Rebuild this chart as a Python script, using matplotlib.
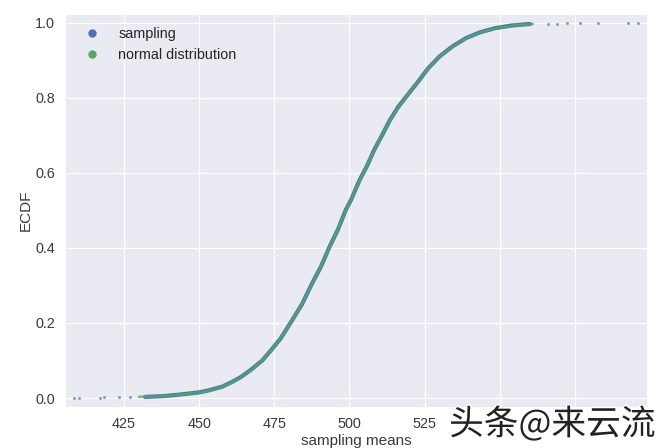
import numpy as np
import matplotlib
matplotlib.use('Agg')
import matplotlib.pyplot as plt
import matplotlib.patheffects as pe
from matplotlib.lines import Line2D
import seaborn as sns

# ECDF 曲线上读出的点 (x = 抽样均值, y = 累计比例)
sampling_x = [432, 438, 444.5, 450, 453.5, 457.6, 461, 463.9, 467.2, 471.1,
              474.2, 477.2, 480.6, 484.2, 487.6, 490.5, 493.2, 496.2, 498.7,
              500.5, 503.3, 505.9, 508.2, 510.8, 513.4, 516.2, 520.6, 522.8,
              526.3, 529.9, 534.2, 538.9, 543.5, 548.5, 554, 560]
sampling_y = [0.003, 0.005, 0.010, 0.015, 0.021, 0.030, 0.043, 0.056, 0.075,
              0.101, 0.130, 0.160, 0.203, 0.250, 0.306, 0.350, 0.400, 0.450,
              0.500, 0.528, 0.580, 0.620, 0.661, 0.700, 0.740, 0.776, 0.821,
              0.843, 0.880, 0.910, 0.937, 0.960, 0.975, 0.986, 0.993, 0.997]

# 两端零散的样本点
tail_x = [408.5, 410, 417, 418.5, 423.5, 427, 566, 569, 572.5, 576.8, 582.5,
          592.8, 596]
tail_y = [0.000, 0.001, 0.001, 0.002, 0.002, 0.003, 0.998, 0.998, 0.999,
          0.999, 0.999, 1.000, 1.000]

normal_x = [430, 437, 444.8, 450.4, 454, 457.8, 461.3, 464.1, 467.4, 471,
            474.3, 477.1, 480.7, 484.1, 487.7, 490.4, 493.3, 496.1, 498.8,
            500.4, 503.4, 505.8, 508.3, 510.7, 513.5, 516.3, 520.5, 522.9,
            526.4, 530, 534.4, 539.1, 543.8, 549, 554.8, 561]
normal_y = [0.003, 0.005, 0.010, 0.015, 0.021, 0.030, 0.043, 0.056, 0.075,
            0.101, 0.130, 0.160, 0.203, 0.250, 0.306, 0.350, 0.400, 0.450,
            0.500, 0.528, 0.580, 0.620, 0.661, 0.700, 0.740, 0.776, 0.821,
            0.843, 0.880, 0.910, 0.937, 0.960, 0.975, 0.986, 0.993, 0.997]

x_ticks = [425, 450, 475, 500, 525, 550, 575]
# 550、575 被水印挡住
x_tick_labels = ['425', '450', '475', '500', '525', '', '']
y_ticks = [0.0, 0.2, 0.4, 0.6, 0.8, 1.0]

sns.set_style('darkgrid')
plt.rcParams['font.family'] = ['Liberation Sans', 'DejaVu Sans']

blue = '#4C72B0'
green = '#55A868'
text_color = '#3a3a3a'

fig, ax = plt.subplots(figsize=(6.61, 4.48), dpi=100)
fig.subplots_adjust(left=0.098, right=0.979, bottom=0.0915, top=0.969)

ax.plot(sampling_x, sampling_y, color=blue, lw=3.0, solid_capstyle='round')
ax.plot(tail_x, tail_y, linestyle='none', marker='.', ms=2.5, color='#7f93a8',
        alpha=0.8)
ax.plot(normal_x, normal_y, color=green, lw=1.9, alpha=0.8,
        solid_capstyle='round')

ax.set_xlim(405.3, 599)
ax.set_ylim(-0.024, 1.024)
ax.set_xticks(x_ticks)
ax.set_xticklabels(x_tick_labels)
ax.set_yticks(y_ticks)
ax.tick_params(labelsize=10.4, colors=text_color, length=0, pad=7)
ax.set_xlabel('sampling means', fontsize=11, color=text_color, labelpad=2)
ax.set_ylabel('ECDF', fontsize=11, color=text_color, labelpad=2)

handles = [Line2D([], [], linestyle='none', marker='o', ms=5, color=blue),
           Line2D([], [], linestyle='none', marker='o', ms=5, color=green)]
ax.legend(handles, ['sampling', 'normal distribution'], loc='upper left',
          frameon=False, fontsize=10.4, handletextpad=0.8,
          bbox_to_anchor=(0.0, 1.0))

# 水印
wm = fig.text(0.992, 0.052, '头条@来云流', ha='right', va='center',
              fontsize=25, color='#222222',
              family=['Noto Sans CJK SC', 'DejaVu Sans'])
wm.set_path_effects([pe.withStroke(linewidth=2, foreground='white')])

fig.savefig('out.png', dpi=100)
